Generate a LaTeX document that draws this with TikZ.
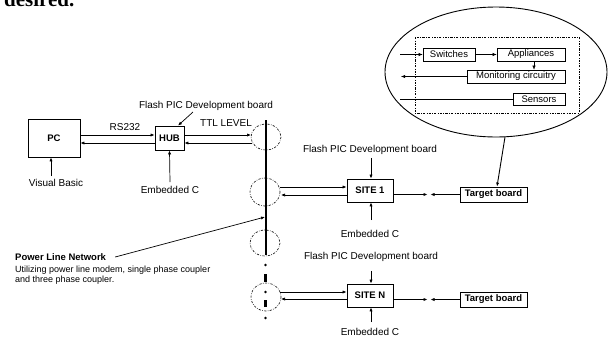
\documentclass[tikz,border=0pt]{standalone}
\usepackage{fontspec}
\setmainfont{Liberation Sans}
\newfontfamily\serifb{Liberation Serif}
\usetikzlibrary{arrows.meta,calc}
\begin{document}
\begin{tikzpicture}[x=1pt,y=-1pt,
  every node/.style={font=\fontsize{10}{12}\selectfont, inner sep=0pt},
  box/.style={draw, line width=0.8pt, minimum width=#1},
  bbox/.style={box=#1, font=\fontsize{9.5}{11}\selectfont\bfseries},
  ibox/.style={draw, line width=0.6pt, minimum width=#1, minimum height=13pt, font=\fontsize{9.5}{11}\selectfont},
  arr/.style={-{Latex[length=4pt,width=3.2pt]}, line width=0.7pt},
  ddot/.style={line width=0.6pt, dash pattern=on 2.2pt off 1.4pt on 0.6pt off 1.4pt},
  lbl/.style={font=\fontsize{10}{12}\selectfont},
  slbl/.style={font=\fontsize{9}{11}\selectfont}]
\useasboundingbox (0,0) rectangle (608,338);
\fill[white] (0,0) rectangle (608,338);
\clip (0,0) rectangle (608,338);

% cut-off text at the top
\node[anchor=base west, font=\serifb\fontsize{21}{24}\selectfont\bfseries] (des) at (4,6) {desired.};

% boxes
\node[bbox=52pt, minimum height=38pt] (pc) at (54,138) {PC};
\node[bbox=29pt, minimum height=24pt] (hub) at (169.5,138) {HUB};
\node[bbox=46pt, minimum height=23pt] (s1) at (370,190.5) {SITE 1};
\node[bbox=46pt, minimum height=23pt] (sn) at (370,295.5) {SITE N};
\node[bbox=67pt, minimum height=15pt] (t1) at (493.5,194.5) {Target board};
\node[bbox=67pt, minimum height=15pt] (tn) at (493.5,299.5) {Target board};

% labels
\node[lbl] (vb) at (56,183) {Visual Basic};
\node[lbl] (rs) at (125,127) {RS232};
\node[lbl] (ttl) at (226,123) {TTL LEVEL};
\node[lbl] (fh) at (206,106) {Flash PIC Development board};
\node[lbl] (eh) at (170,190) {Embedded C};
\node[lbl] (f1) at (370,150) {Flash PIC Development board};
\node[lbl] (e1) at (370,234) {Embedded C};
\node[lbl] (fn) at (371,257) {Flash PIC Development board};
\node[lbl] (en) at (370,332) {Embedded C};
\node[anchor=west, font=\fontsize{9.5}{11}\selectfont\bfseries] (pa) at (15,257) {Power Line Network};
\node[anchor=west, slbl] (pb) at (15,270) {Utilizing power line modem, single phase coupler};
\node[anchor=west, slbl] (pc2) at (15,280) {and three phase coupler.};

% power line bus
\draw[line width=2.6pt] (266,120) coordinate (bustop) -- (266,255) coordinate (busbot);
\fill (265.5,265) circle (1.4);
\draw[line width=2.6pt] (265.5,274) -- (265.5,282);
\fill (265.5,292) circle (1.4);
\draw[line width=2.6pt] (265.5,300) -- (265.5,307);
\fill (265.5,318) circle (1.4);

% coupler ellipses
\draw[ddot] (266,137) ellipse [x radius=15, y radius=13];
\draw[ddot] (265,192) ellipse [x radius=15, y radius=14];
\draw[ddot] (265,243) ellipse [x radius=15, y radius=13];
\draw[ddot] (266,297) ellipse [x radius=15, y radius=14];

% PC <-> HUB
\draw[arr] (pc.east |- 0,135) -- (hub.west |- 0,135);
\draw[arr] (hub.west |- 0,143) -- (pc.east |- 0,143);
% HUB <-> bus
\coordinate (h1) at (251,135);
\coordinate (h2) at (252,143);
\draw[arr] (hub.east |- h1) -- (h1);
\draw[arr] (h2) -- (hub.east |- h2);
% bus <-> SITE 1
\coordinate (a1) at (280,187);
\coordinate (a2) at (281,195);
\draw[arr] (a1) -- (s1.west |- a1);
\draw[arr] (s1.west |- a2) -- (a2);
% bus <-> SITE N
\coordinate (b1) at (280,292);
\coordinate (b2) at (281,299);
\draw[arr] (b1) -- (sn.west |- b1);
\draw[arr] (sn.west |- b2) -- (b2);

% vertical arrows
\coordinate (vbx) at (51,176);
\draw[arr] (vbx) -- (vbx |- pc.south);
\coordinate (fha) at (193,112);
\draw[arr] (fha) -- ($(hub.north)+(8.5,0)$);
\draw[arr] ($(eh.north)+(0,-4)$) -- (hub.south);
\draw[arr] ($(f1.south)+(1,3)$) -- ($(s1.north)+(1,0)$);
\draw[arr] ($(e1.north)+(1,-10)$) -- ($(s1.south)+(1,0)$);
\draw[arr] ($(fn.south)+(0,9)$) -- ($(sn.north)+(1,0)$);
\draw[arr] ($(en.north)+(1,-6)$) -- ($(sn.south)+(1,0)$);

% SITE <-> Target
\coordinate (m1) at (427.5,194.5);
\coordinate (m1b) at (430.5,194.5);
\draw[arr] (s1.east |- m1) -- (m1);
\draw[arr] (t1.west |- m1b) -- (m1b);
\coordinate (mn) at (427.5,299.5);
\coordinate (mnb) at (430.5,299.5);
\draw[arr] (sn.east |- mn) -- (mn);
\draw[arr] (tn.west |- mnb) -- (mnb);

% power line network pointer
\coordinate (busp) at (265,217);
\draw[arr] ($(pa.east)+(9,0)$) -- (busp);

% detail ellipse
\draw[line width=0.9pt] (496,72) ellipse [x radius=111, y radius=65];
\coordinate (elb) at (505,137);
\draw[arr, line width=0.9pt] (elb) -- ($(t1.north)+(3.5,0)$);
\draw[ddot, line width=0.7pt] (415,37) rectangle (579,113);
\node[ibox=52pt] (sw) at (449,54.5) {Switches};
\node[ibox=68pt] (ap) at (531,54.5) {Appliances};
\node[ibox=98pt] (mo) at (516,76.5) {Monitoring circuitry};
\node[ibox=52pt, minimum height=12pt] (se) at (539,99) {Sensors};
\coordinate (i1) at (400,54.5);
\coordinate (i2) at (401,76.5);
\coordinate (i3) at (400,99);
\draw[arr, line width=0.5pt] (i1) -- (sw.west);
\draw[arr, line width=0.5pt] (sw.east) -- (ap.west);
\draw[arr, line width=0.5pt] ($(ap.south)+(3,0)$) -- ($(ap.south |- mo.north)+(3,0)$);
\draw[arr, line width=0.5pt] (mo.west) -- (i2);
\draw[line width=0.5pt] (se.west) -- (i3);
\end{tikzpicture}
\end{document}
